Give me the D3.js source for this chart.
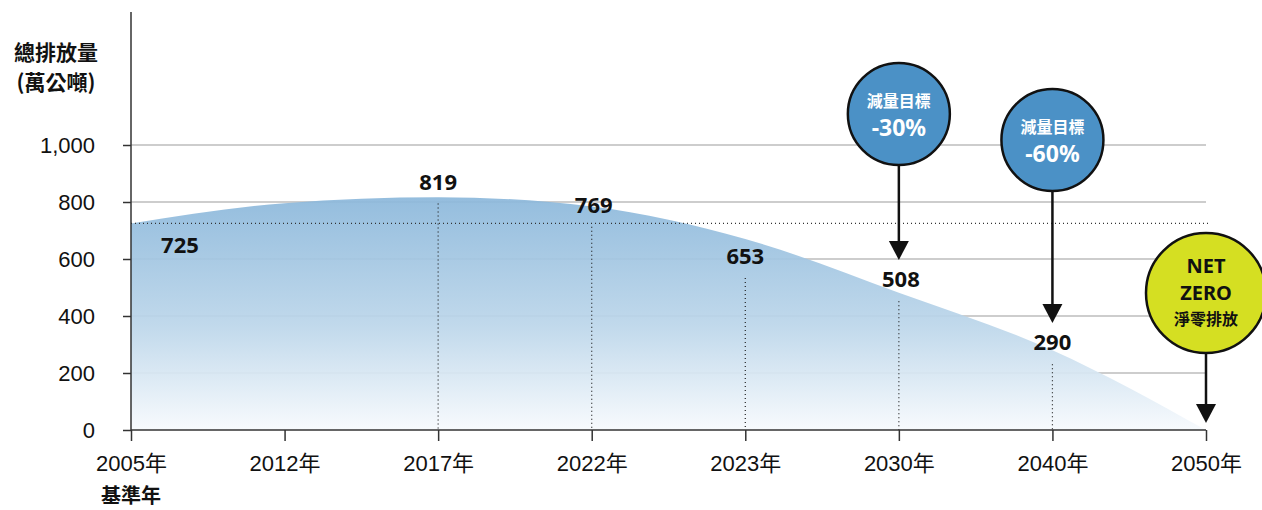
<!DOCTYPE html>
<html lang="zh-Hant">
  <head>
    <meta charset="UTF-8" />
    <title>總排放量</title>
    <script src="https://cdnjs.cloudflare.com/ajax/libs/d3/7.8.5/d3.min.js"></script>
    <style>
      body { margin: 0; background: #fff; }
      svg text { font-family: "Liberation Sans", Arial, "Noto Sans CJK TC", sans-serif; }
      .bold { font-family: "Noto Sans", "Noto Sans CJK TC", sans-serif; font-weight: 700; }
      .cjk { font-family: "Noto Sans CJK TC", sans-serif; }
    </style>
  </head>
  <body>
    <svg id="chart" width="1262" height="510"></svg>

    <script type="text/javascript">
      // categories along the x axis
      var years = ["2005年", "2012年", "2017年", "2022年", "2023年", "2030年", "2040年", "2050年"];
      // shape of the shaded curve
      var curveValues = [725, 796, 817, 784, 670, 482, 280, 0];
      // labelled emission values
      var labelYears = ["2005年", "2017年", "2022年", "2023年", "2030年", "2040年"];
      var labelValues = [725, 819, 769, 653, 508, 290];
      var yTicks = [0, 200, 400, 600, 800, 1000];
      var baseValue = 725;
      // target bubbles
      var targetYears = ["2030年", "2040年", "2050年"];
      var targetLines = [["減量目標", "-30%"], ["減量目標", "-60%"], ["NET", "ZERO", "淨零排放"]];

      var svg = d3.select("#chart");

      var x = d3.scalePoint().domain(years).range([131, 1206]);
      var y = d3.scaleLinear().domain([0, 1000]).range([430, 145]);

      /* gradient for the area */
      var defs = svg.append("defs");
      var grad = defs.append("linearGradient")
        .attr("id", "areaGrad").attr("x1", 0).attr("y1", 0).attr("x2", 0).attr("y2", 1);
      grad.append("stop").attr("offset", "0%").attr("stop-color", "#8cb8db");
      grad.append("stop").attr("offset", "55%").attr("stop-color", "#bcd6ea");
      grad.append("stop").attr("offset", "100%").attr("stop-color", "#f7fafd");

      /* grid */
      svg.append("g").selectAll("line").data(yTicks.slice(1)).enter().append("line")
        .attr("x1", 131).attr("x2", 1206)
        .attr("y1", function (d) { return y(d); }).attr("y2", function (d) { return y(d); })
        .style("stroke", "#bdbdbd").style("stroke-width", 1.5);

      /* area */
      var pts = years.map(function (d, i) { return { k: d, v: curveValues[i] }; });
      var area = d3.area()
        .x(function (d) { return x(d.k); })
        .y0(y(0))
        .y1(function (d) { return y(d.v); })
        .curve(d3.curveMonotoneX);
      svg.append("path").datum(pts).attr("d", area)
        .style("fill", "url(#areaGrad)").style("fill-opacity", 0.93);

      /* base year dotted line */
      svg.append("line")
        .attr("x1", 131).attr("x2", 1208)
        .attr("y1", y(baseValue)).attr("y2", y(baseValue))
        .style("stroke", "#333").style("stroke-width", 1.2).style("stroke-dasharray", "1,3");

      /* value labels and dotted drop lines */
      var labelNudge = [30, -7, 2, 20, 2, 3];
      var labelDx = [49, 0, 2, 0, 2, 0];
      labelYears.forEach(function (k, i) {
        var ly = y(labelValues[i]) + labelNudge[i];
        if (i > 0) {
          svg.append("line")
            .attr("x1", x(k)).attr("x2", x(k))
            .attr("y1", ly + 14).attr("y2", y(0))
            .style("stroke", "#222").style("stroke-width", 1.2).style("stroke-dasharray", "1,3");
        }
        svg.append("text").attr("class", "bold")
          .attr("x", x(k) + labelDx[i]).attr("y", ly)
          .attr("text-anchor", "middle")
          .style("font-size", "22px").style("fill", "#111")
          .text(d3.format(",")(labelValues[i]));
      });

      /* y axis */
      var yAxis = svg.append("g").attr("transform", "translate(131,0)")
        .call(d3.axisLeft(y).tickValues(yTicks).tickSize(8).tickPadding(28).tickFormat(d3.format(",")));
      yAxis.select(".domain").remove();
      yAxis.selectAll(".tick line").style("stroke", "#333").style("stroke-width", 1.5);
      yAxis.selectAll(".tick text").style("font-size", "22px").style("fill", "#111")
        .style("font-family", "'Liberation Sans', Arial, sans-serif");
      svg.append("line").attr("x1", 131).attr("x2", 131).attr("y1", 12).attr("y2", 430)
        .style("stroke", "#333").style("stroke-width", 1.5);

      /* x axis */
      var xAxis = svg.append("g").attr("transform", "translate(0,430)")
        .call(d3.axisBottom(x).tickSize(11).tickPadding(14));
      xAxis.select(".domain").remove();
      xAxis.selectAll(".tick line").style("stroke", "#333").style("stroke-width", 1.5);
      xAxis.selectAll(".tick text").style("font-size", "22px").style("fill", "#111")
        .style("font-family", "'Liberation Sans', Arial, 'Noto Sans CJK TC', sans-serif");
      svg.append("line").attr("x1", 131).attr("x2", 1206).attr("y1", 430).attr("y2", 430)
        .style("stroke", "#333").style("stroke-width", 1.5);
      svg.append("text").attr("class", "cjk")
        .attr("x", x(years[0])).attr("y", 503).attr("text-anchor", "middle")
        .style("font-size", "20px").style("font-weight", 700).style("fill", "#111")
        .text("基準年");

      /* axis title */
      svg.append("text").attr("class", "cjk").attr("x", 56).attr("y", 60).attr("text-anchor", "middle")
        .style("font-size", "21px").style("font-weight", 700).style("fill", "#111").text("總排放量");
      svg.append("text").attr("class", "cjk").attr("x", 56).attr("y", 90).attr("text-anchor", "middle")
        .style("font-size", "21px").style("font-weight", 700).style("fill", "#111").text("(萬公噸)");

      /* target bubbles with arrows */
      var bubbleCy = [114, 140, 293];
      var bubbleR = [51, 51, 60];
      var tipY = [260, 323, 423];
      var bubbleFill = ["#4b91c6", "#4b91c6", "#d5df22"];
      var textFill = ["#fff", "#fff", "#111"];

      targetYears.forEach(function (k, i) {
        var cx = x(k);
        svg.append("line")
          .attr("x1", cx).attr("x2", cx)
          .attr("y1", bubbleCy[i] + bubbleR[i]).attr("y2", tipY[i] - 16)
          .style("stroke", "#111").style("stroke-width", 2.5);
        svg.append("path")
          .attr("d", "M" + (cx - 10) + "," + (tipY[i] - 19) + "L" + (cx + 10) + "," + (tipY[i] - 19) + "L" + cx + "," + tipY[i] + "Z")
          .style("fill", "#111");
        svg.append("circle")
          .attr("cx", cx).attr("cy", bubbleCy[i]).attr("r", bubbleR[i])
          .style("fill", bubbleFill[i]).style("stroke", "#111").style("stroke-width", 2.5);
        var lines = targetLines[i];
        if (lines.length === 2) {
          svg.append("text").attr("class", "cjk")
            .attr("x", cx).attr("y", bubbleCy[i] - 7).attr("text-anchor", "middle")
            .style("font-size", "16px").style("font-weight", 700).style("fill", textFill[i])
            .text(lines[0]);
          svg.append("text").attr("class", "bold")
            .attr("x", cx).attr("y", bubbleCy[i] + 22).attr("text-anchor", "middle")
            .style("font-size", "23px").style("fill", textFill[i])
            .text(lines[1]);
        } else {
          svg.append("text").attr("class", "bold")
            .attr("x", cx).attr("y", bubbleCy[i] - 20).attr("text-anchor", "middle")
            .style("font-size", "20px").style("fill", textFill[i]).text(lines[0]);
          svg.append("text").attr("class", "bold")
            .attr("x", cx).attr("y", bubbleCy[i] + 7).attr("text-anchor", "middle")
            .style("font-size", "20px").style("fill", textFill[i]).text(lines[1]);
          svg.append("text").attr("class", "cjk")
            .attr("x", cx).attr("y", bubbleCy[i] + 32).attr("text-anchor", "middle")
            .style("font-size", "16px").style("font-weight", 700).style("fill", textFill[i]).text(lines[2]);
        }
      });
    </script>
  </body>
</html>
